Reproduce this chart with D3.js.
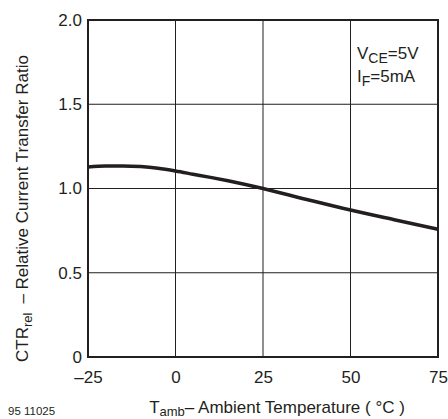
<!DOCTYPE html>
<html>
<head>
<meta charset="utf-8">
<script src="https://cdn.jsdelivr.net/npm/d3@7"></script>
<style>
  body { margin: 0; background: #fff; }
  text { font-family: "Liberation Sans", Arial, sans-serif; fill: #231f20; }
</style>
</head>
<body>
<div id="chart"></div>
<script>
// curve
const tempValues = [-25, -20, -15, -10, -5, 0, 5, 10, 15, 20, 25, 37.5, 50, 62.5, 75];
const ctrValues = [1.128, 1.134, 1.134, 1.13, 1.12, 1.104, 1.085, 1.066, 1.046, 1.024, 1.0, 0.935, 0.872, 0.815, 0.758];
const xTicks = [-25, 0, 25, 50, 75];
const yTicks = [0, 0.5, 1.0, 1.5, 2.0];
const yTickLabels = ["0", "0.5", "1.0", "1.5", "2.0"];

const size = {width: 448, height: 419};
const margin = {top: 20, right: 10, bottom: 62, left: 88};
const width = size.width - margin.left - margin.right;
const height = size.height - margin.top - margin.bottom;

const svg = d3.select("#chart").append("svg")
    .attr("width", size.width)
    .attr("height", size.height);

const g = svg.append("g")
    .attr("transform", "translate(" + margin.left + "," + margin.top + ")");

const xScale = d3.scaleLinear().domain([-25, 75]).range([0, width]);
const yScale = d3.scaleLinear().domain([0, 2]).range([height, 0]);

// grid
g.selectAll(".vgrid").data(xTicks)
    .join("line")
    .attr("x1", d => xScale(d)).attr("x2", d => xScale(d))
    .attr("y1", 0).attr("y2", height)
    .attr("stroke", "#231f20").attr("stroke-width", 1);

g.selectAll(".hgrid").data(yTicks)
    .join("line")
    .attr("x1", 0).attr("x2", width)
    .attr("y1", d => yScale(d)).attr("y2", d => yScale(d))
    .attr("stroke", "#231f20").attr("stroke-width", 1);

// frame
g.append("rect")
    .attr("width", width).attr("height", height)
    .attr("fill", "none")
    .attr("stroke", "#231f20").attr("stroke-width", 2);

// axes (labels only)
const bottomAxis = d3.axisBottom(xScale).tickValues(xTicks).tickSize(0).tickPadding(14)
    .tickFormat(d => d < 0 ? "\u2013" + Math.abs(d) : d);
const leftAxis = d3.axisLeft(yScale).tickValues(yTicks).tickSize(0).tickPadding(6)
    .tickFormat((d, i) => yTickLabels[i]);

g.append("g").attr("transform", "translate(0," + height + ")").call(bottomAxis)
    .call(a => a.select(".domain").remove())
    .selectAll("text").attr("font-size", 17).attr("fill", "#231f20")
    .attr("font-family", "Liberation Sans, Arial, sans-serif");

g.append("g").call(leftAxis)
    .call(a => a.select(".domain").remove())
    .selectAll("text").attr("font-size", 17).attr("fill", "#231f20")
    .attr("font-family", "Liberation Sans, Arial, sans-serif");

// curve
const line = d3.line()
    .x((d, i) => xScale(tempValues[i]))
    .y(d => yScale(d))
    .curve(d3.curveMonotoneX);

g.append("path")
    .datum(ctrValues)
    .attr("fill", "none")
    .attr("stroke", "#231f20")
    .attr("stroke-width", 3.5)
    .attr("d", line);

// conditions
const cond = g.append("g").attr("font-size", 17);
const t1 = cond.append("text").attr("x", 269).attr("y", 39);
t1.append("tspan").text("V");
t1.append("tspan").attr("dy", 4).attr("font-size", 14).text("CE");
t1.append("tspan").attr("dy", -4).text("=5V");
const t2 = cond.append("text").attr("x", 269).attr("y", 62);
t2.append("tspan").text("I");
t2.append("tspan").attr("dy", 4).attr("font-size", 14).text("F");
t2.append("tspan").attr("dy", -4).text("=5mA");

// x label
const xl = svg.append("text")
    .attr("x", 277).attr("y", 413)
    .attr("text-anchor", "middle")
    .attr("font-size", 17);
xl.append("tspan").text("T");
xl.append("tspan").attr("dy", 3).attr("font-size", 13).text("amb");
xl.append("tspan").attr("dy", -3).text("\u2013 Ambient Temperature ( \u00b0C )");

// y label
const yl = svg.append("text")
    .attr("transform", "translate(28,362) rotate(-90)")
    .attr("text-anchor", "start")
    .attr("font-size", 17);
yl.append("tspan").text("CTR");
yl.append("tspan").attr("dy", 4).attr("font-size", 13).text("rel");
yl.append("tspan").attr("dy", -4).attr("dx", 9).text("\u2013 Relative Current Transfer Ratio");

// figure number
svg.append("text")
    .attr("x", 8).attr("y", 415)
    .attr("font-size", 11.5)
    .text("95 11025");
</script>
</body>
</html>
